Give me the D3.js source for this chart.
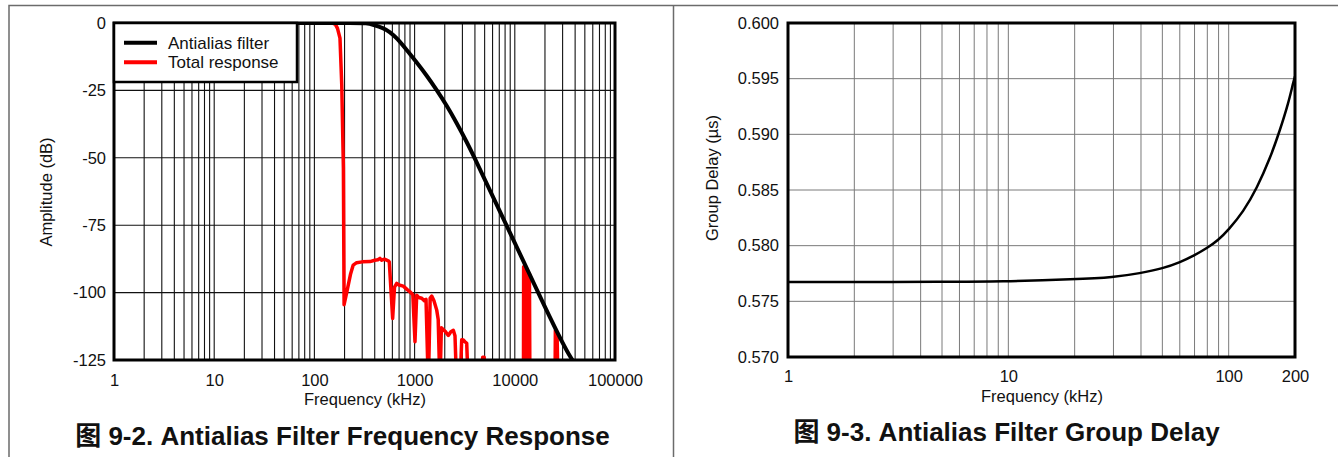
<!DOCTYPE html>
<html>
<head>
<meta charset="utf-8">
<script src="https://cdn.jsdelivr.net/npm/d3@7"></script>
<style>
  html, body { margin: 0; padding: 0; background: #fff; }
  svg { display: block; }
  text { font-family: "Liberation Sans", Arial, "Noto Sans CJK SC", sans-serif; fill: #111; }
</style>
</head>
<body>
<svg id="chart" width="1338" height="457"></svg>
<script>
// ---------- Data: left chart (Frequency response) ----------
const ampTicks = [0, -25, -50, -75, -100, -125];
const ampFreqTicks = [1, 10, 100, 1000, 10000, 100000];
const filterFreq = [1, 100, 250, 333, 387, 487, 568, 663, 834, 1050, 1321, 1662, 2091, 2632, 3311, 4007, 8170, 17850, 36380, 56300];
const filterDb   = [0, 0, 0, 0, -0.63, -1.85, -3.34, -5.56, -10.0, -14.65, -19.47, -24.85, -30.6, -37.1, -44.1, -50.3, -74.65, -101.4, -125.8, -133.1];
const totalFreq = [1, 100, 150, 162, 170, 180, 187.5, 194.7, 197.8, 210, 230, 244, 264, 300, 359, 400, 430, 451, 470, 500, 546, 559, 604, 630, 663, 700, 771, 850, 899, 960, 1009, 1049, 1100, 1178, 1250, 1300, 1371, 1430, 1482, 1560, 1663, 1720, 1790, 1850, 2012, 2170, 2300, 2434, 2530, 2631, 2838, 2951, 3063, 3200, 3312, 3435, 4700, 4780, 4950, 5000, 12200, 12250, 12400, 12600, 12800, 13000, 13200, 13500, 13800, 14000, 14150, 25200, 25400, 25900, 26400, 27000, 100000];
const totalDb   = [0, 0, 0, -0.5, -2, -5.6, -22.9, -53.8, -104.5, -100, -93, -89.8, -88.9, -88.6, -88.5, -88, -87.8, -87.3, -88, -87.6, -88.2, -88.6, -109.6, -98, -96.6, -97.2, -97.6, -99, -99.7, -100.8, -118.2, -101, -101.8, -102.1, -103, -102.5, -135, -102, -101.3, -103, -106.5, -110, -135, -113, -114.3, -115.9, -114.5, -114, -116, -135, -135, -117.5, -117.6, -118.3, -118.8, -135, -135, -124, -124, -135, -135, -90.4, -135, -91, -135, -91.5, -135, -92.2, -135, -93, -135, -135, -114, -135, -115, -135, -135];
const legendLabels = ["Antialias filter", "Total response"];
const legendColors = ["#000000", "#ff0000"];

// ---------- Data: right chart (Group delay) ----------
const gdTicks = [0.570, 0.575, 0.580, 0.585, 0.590, 0.595, 0.600];
const gdFreqTicks = [1, 10, 100, 200];
const gdFreq  = [1, 2, 5, 9.2, 20.4, 30, 39.6, 50.5, 60.2, 70.4, 79.5, 89.8, 99.7, 116.6, 134.2, 154.2, 171, 186.6, 196.7, 200];
const gdDelay = [0.57674, 0.57674, 0.57675, 0.57676, 0.57698, 0.57716, 0.57752, 0.57797, 0.57851, 0.57916, 0.57976, 0.58051, 0.58141, 0.58305, 0.58515, 0.58785, 0.59039, 0.59279, 0.59473, 0.5952];

const svg = d3.select("#chart");
const plain = d => String(d);

// Outer table frame
svg.append("path").attr("d", "M9,457V5.5H1338").attr("fill", "none").attr("stroke", "#6b6b6b").attr("stroke-width", 1.5);
svg.append("path").attr("d", "M673.5,5.5V457").attr("fill", "none").attr("stroke", "#6b6b6b").attr("stroke-width", 1.5);

// ================= LEFT CHART =================
(function () {
  const L = 114, R = 615, T = 23, B = 360;
  const x = d3.scaleLog().domain([1, 100000]).range([L, R]);
  const y = d3.scaleLinear().domain([-125, 0]).range([B, T]);
  const g = svg.append("g");

  g.append("clipPath").attr("id", "clipL").append("rect").attr("x", L).attr("y", T).attr("width", R - L).attr("height", B - T);

  const vx = [];
  for (let d = 1; d < 100000; d *= 10) for (let m = 1; m <= 9; m++) { const v = d * m; if (v > 1 && v < 100000) vx.push(v); }
  g.append("g").selectAll("line").data(vx).join("line")
    .attr("x1", d => x(d)).attr("x2", d => x(d)).attr("y1", T).attr("y2", B)
    .attr("stroke", "#111").attr("stroke-width", 1.1);
  g.append("g").selectAll("line").data(ampTicks.filter(v => v < 0 && v > -125)).join("line")
    .attr("x1", L).attr("x2", R).attr("y1", d => y(d)).attr("y2", d => y(d))
    .attr("stroke", "#111").attr("stroke-width", 1.1);

  const redData = totalFreq.map((f, i) => [f, totalDb[i]]);
  const blackData = filterFreq.map((f, i) => [f, filterDb[i]]);
  g.append("path").datum(redData).attr("clip-path", "url(#clipL)")
    .attr("d", d3.line().x(d => x(d[0])).y(d => y(d[1])))
    .attr("fill", "none").attr("stroke", "#ff0000").attr("stroke-width", 3.5).attr("stroke-linejoin", "round");
  g.append("path").datum(blackData).attr("clip-path", "url(#clipL)")
    .attr("d", d3.line().x(d => x(d[0])).y(d => y(d[1])).curve(d3.curveBasis))
    .attr("fill", "none").attr("stroke", "#000").attr("stroke-width", 4);

  const ax = g.append("g").attr("transform", `translate(0,${B})`)
    .call(d3.axisBottom(x).tickValues(ampFreqTicks).tickFormat(plain).tickSize(0).tickPadding(14.5));
  ax.select(".domain").remove();
  const ay = g.append("g").attr("transform", `translate(${L},0)`)
    .call(d3.axisLeft(y).tickValues(ampTicks).tickFormat(plain).tickSize(0).tickPadding(8));
  ay.select(".domain").remove();
  g.selectAll(".tick text").attr("font-size", 16.5).attr("font-family", "Liberation Sans, Arial, sans-serif").attr("fill", "#111");

  g.append("rect").attr("x", L).attr("y", T).attr("width", R - L).attr("height", B - T)
    .attr("fill", "none").attr("stroke", "#000").attr("stroke-width", 3);

  const lg = g.append("g");
  lg.append("rect").attr("x", L).attr("y", T).attr("width", 183).attr("height", 59)
    .attr("fill", "#fff").attr("stroke", "#000").attr("stroke-width", 2.5);
  legendLabels.forEach((lab, i) => {
    const yy = 42.7 + i * 19.5;
    lg.append("line").attr("x1", 124).attr("x2", 157).attr("y1", yy).attr("y2", yy)
      .attr("stroke", legendColors[i]).attr("stroke-width", 4);
    lg.append("text").attr("x", 168).attr("y", yy + 6).attr("font-size", 17).text(lab);
  });

  g.append("text").attr("x", 365).attr("y", 405).attr("text-anchor", "middle").attr("font-size", 16.5).text("Frequency (kHz)");
  g.append("text").attr("transform", "translate(52,192) rotate(-90)").attr("text-anchor", "middle").attr("font-size", 16.5).text("Amplitude (dB)");
  g.append("text").attr("x", 342.5).attr("y", 445).attr("text-anchor", "middle").attr("font-size", 26).attr("font-weight", "bold")
    .text("图 9-2. Antialias Filter Frequency Response");
})();

// ================= RIGHT CHART =================
(function () {
  const L = 788, R = 1295, T = 23, B = 357;
  const x = d3.scaleLog().domain([1, 200]).range([L, R]);
  const y = d3.scaleLinear().domain([0.570, 0.600]).range([B, T]);
  const g = svg.append("g");

  g.append("clipPath").attr("id", "clipR").append("rect").attr("x", L).attr("y", T).attr("width", R - L).attr("height", B - T);

  const vx = [];
  for (let d = 1; d < 200; d *= 10) for (let m = 1; m <= 9; m++) { const v = d * m; if (v > 1 && v < 200) vx.push(v); }
  g.append("g").selectAll("line").data(vx).join("line")
    .attr("x1", d => x(d)).attr("x2", d => x(d)).attr("y1", T).attr("y2", B)
    .attr("stroke", "#7a7a7a").attr("stroke-width", 1);
  g.append("g").selectAll("line").data(gdTicks.filter(v => v > 0.5701 && v < 0.5999)).join("line")
    .attr("x1", L).attr("x2", R).attr("y1", d => y(d)).attr("y2", d => y(d))
    .attr("stroke", "#7a7a7a").attr("stroke-width", 1);

  g.append("path").datum(gdFreq.map((f, i) => [f, gdDelay[i]])).attr("clip-path", "url(#clipR)")
    .attr("d", d3.line().x(d => x(d[0])).y(d => y(d[1])).curve(d3.curveBasis))
    .attr("fill", "none").attr("stroke", "#000").attr("stroke-width", 2.5);

  const ax = g.append("g").attr("transform", `translate(0,${B})`)
    .call(d3.axisBottom(x).tickValues(gdFreqTicks).tickFormat(plain).tickSize(0).tickPadding(13.5));
  ax.select(".domain").remove();
  const ay = g.append("g").attr("transform", `translate(${L},0)`)
    .call(d3.axisLeft(y).tickValues(gdTicks).tickFormat(d3.format(".3f")).tickSize(0).tickPadding(9));
  ay.select(".domain").remove();
  g.selectAll(".tick text").attr("font-size", 16.5).attr("font-family", "Liberation Sans, Arial, sans-serif").attr("fill", "#111");

  g.append("rect").attr("x", L).attr("y", T).attr("width", R - L).attr("height", B - T)
    .attr("fill", "none").attr("stroke", "#000").attr("stroke-width", 3);

  g.append("text").attr("x", 1042).attr("y", 402).attr("text-anchor", "middle").attr("font-size", 16.5).text("Frequency (kHz)");
  g.append("text").attr("transform", "translate(718,178) rotate(-90)").attr("text-anchor", "middle").attr("font-size", 16.5).text("Group Delay  (µs)");
  g.append("text").attr("x", 1006.5).attr("y", 441).attr("text-anchor", "middle").attr("font-size", 26).attr("font-weight", "bold")
    .text("图 9-3. Antialias Filter Group Delay");
})();
</script>
</body>
</html>
